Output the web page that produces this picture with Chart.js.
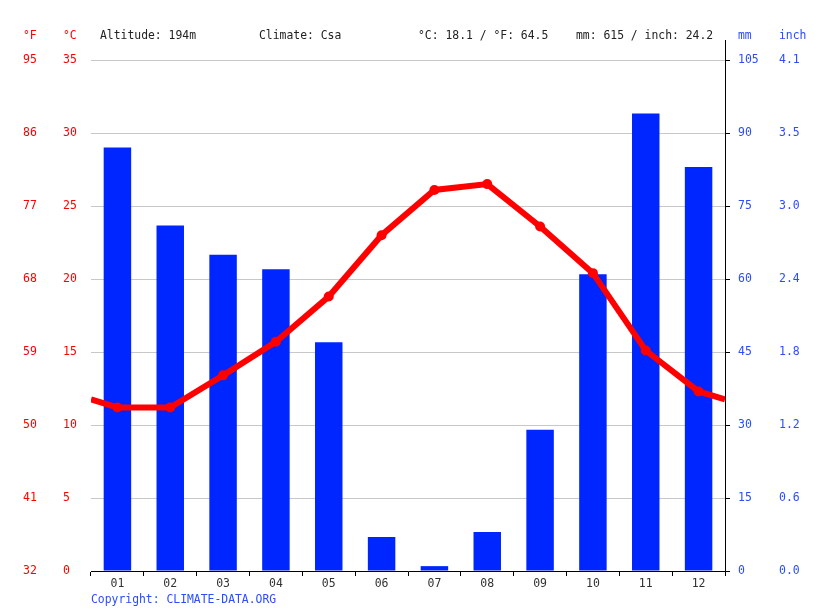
<!DOCTYPE html>
<html>
<head>
<meta charset="utf-8">
<script src="https://cdn.jsdelivr.net/npm/chart.js@4/dist/chart.umd.min.js"></script>
<style>
  body { margin: 0; background: #fff; }
  #wrap { width: 815px; height: 611px; }
</style>
</head>
<body>
<div id="wrap"><canvas id="chart1" width="815" height="611"></canvas></div>
<script>
const months = ["01", "02", "03", "04", "05", "06", "07", "08", "09", "10", "11", "12"];
const precipitationMm = [87, 71, 65, 62, 47, 7, 1, 8, 29, 61, 94, 83];
const temperatureC = [11.2, 11.2, 13.4, 15.7, 18.8, 23.0, 26.1, 26.5, 23.6, 20.4, 15.1, 12.3];

const celsiusTicks = [0, 5, 10, 15, 20, 25, 30, 35];
const fahrenheitTicks = [32, 41, 50, 59, 68, 77, 86, 95];
const mmTicks = [0, 15, 30, 45, 60, 75, 90, 105];
const inchTicks = ["0.0", "0.6", "1.2", "1.8", "2.4", "3.0", "3.5", "4.1"];

const headerTexts = ["Altitude: 194m", "Climate: Csa", "°C: 18.1 / °F: 64.5", "mm: 615 / inch: 24.2"];

const RED = "#ff0000";
const BLUE = "#2b4cff";
const MONO = "'DejaVu Sans Mono', 'Liberation Mono', monospace";

Chart.defaults.font.family = MONO;
Chart.defaults.font.size = 11.5;

// line wraps round the year: half-way between Dec and Jan at both edges
const edgeTemp = (temperatureC[11] + temperatureC[0]) / 2;
const linePoints = [{ x: 0, y: edgeTemp }]
  .concat(temperatureC.map((t, i) => ({ x: i + 0.5, y: t })))
  .concat([{ x: 12, y: edgeTemp }]);

const setTicks = (values) => (scale) => {
  scale.ticks = values.map((v) => ({ value: v }));
};

const textPlugin = {
  id: "texts",
  afterDraw(chart) {
    const ctx = chart.ctx;
    const area = chart.chartArea;
    ctx.save();
    ctx.font = "11.4px " + MONO;
    ctx.textBaseline = "middle";
    ctx.textAlign = "left";

    ctx.fillStyle = RED;
    ctx.fillText("°F", 23, 36);
    ctx.fillText("°C", 63, 36);

    ctx.fillStyle = "#222";
    const headerX = [100, 259, 418, 576];
    headerTexts.forEach((t, i) => ctx.fillText(t, headerX[i], 36));

    ctx.fillStyle = BLUE;
    ctx.fillText("mm", 738, 36);
    ctx.fillText("inch", 779, 36);
    ctx.fillText("Copyright: CLIMATE-DATA.ORG", 91, 600);

    // right axis line runs up to the header
    ctx.strokeStyle = "#000";
    ctx.lineWidth = 1;
    ctx.beginPath();
    ctx.moveTo(area.right + 0.5, 40);
    ctx.lineTo(area.right + 0.5, area.top);
    ctx.stroke();
    ctx.restore();
  }
};

new Chart(document.getElementById("chart1"), {
  data: {
    labels: months,
    datasets: [{
      type: "line",
      label: "Temperature",
      data: linePoints,
      xAxisID: "xl",
      yAxisID: "yC",
      borderColor: RED,
      backgroundColor: RED,
      borderWidth: 6,
      pointRadius: (c) => (c.dataIndex === 0 || c.dataIndex === linePoints.length - 1) ? 0 : 5,
      pointBackgroundColor: RED,
      pointBorderWidth: 0,
      tension: 0,
      order: 0
    }, {
      type: "bar",
      label: "Precipitation",
      data: precipitationMm,
      xAxisID: "x",
      yAxisID: "yMM",
      backgroundColor: "#0026ff",
      borderWidth: 0,
      grouped: false,
      categoryPercentage: 1,
      barPercentage: 0.52,
      order: 1
    }]
  },
  options: {
    responsive: false,
    animation: false,
    layout: { padding: { top: 60, bottom: 15, left: 23, right: 0 } },
    plugins: { legend: { display: false }, tooltip: { enabled: false } },
    scales: {
      x: {
        type: "category",
        position: "bottom",
        offset: true,
        grid: { offset: true, drawOnChartArea: false, drawTicks: true, tickLength: 5, color: "#000" },
        border: { display: true, color: "#000" },
        ticks: { color: "#333", padding: 1, maxRotation: 0 },
        afterFit: (s) => { s.height = 25; }
      },
      xl: {
        type: "linear",
        display: false,
        min: 0,
        max: 12
      },
      yC: {
        position: "left",
        min: 0,
        max: 35,
        afterBuildTicks: setTicks(celsiusTicks),
        grid: { color: "#c8c8c8", drawTicks: false },
        border: { display: false },
        ticks: { color: RED, crossAlign: "far", padding: 0 },
        afterFit: (s) => { s.width = 28; }
      },
      yF: {
        position: "left",
        min: 32,
        max: 95,
        afterBuildTicks: setTicks(fahrenheitTicks),
        grid: { display: false, drawTicks: false },
        border: { display: false },
        ticks: { color: RED, crossAlign: "far", padding: 0 },
        afterFit: (s) => { s.width = 40; }
      },
      yMM: {
        position: "right",
        min: 0,
        max: 105,
        afterBuildTicks: setTicks(mmTicks),
        grid: { drawOnChartArea: false, drawTicks: true, tickLength: 5, color: "#000" },
        border: { display: true, color: "#000" },
        ticks: { color: BLUE, padding: 8 },
        afterFit: (s) => { s.width = 54; }
      },
      yIn: {
        position: "right",
        min: 0,
        max: 105,
        afterBuildTicks: setTicks(mmTicks),
        grid: { display: false, drawTicks: false },
        border: { display: false },
        ticks: { color: BLUE, padding: 0, callback: (v, i) => inchTicks[i] },
        afterFit: (s) => { s.width = 36; }
      }
    }
  },
  plugins: [textPlugin]
});
</script>
</body>
</html>
